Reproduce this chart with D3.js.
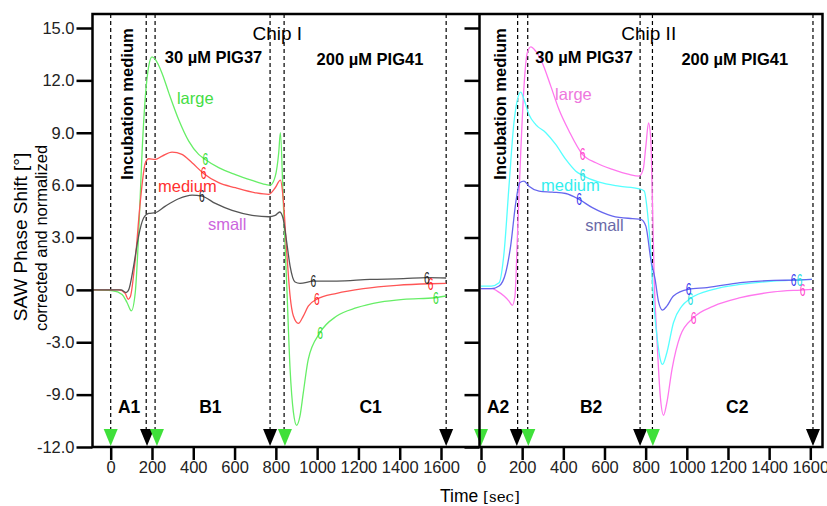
<!DOCTYPE html>
<html>
<head>
<meta charset="utf-8">
<script src="https://cdn.jsdelivr.net/npm/d3@7"></script>
<style>
  body { margin: 0; background: #fff; }
  svg { display: block; font-family: "Liberation Sans", Arial, sans-serif; }
</style>
</head>
<body>
<div id="chart"></div>
<script>
// ---- data: [time (s), phase shift (deg)] ----
const chip1Large = [[-90,0],[10,-0.05],[55,-0.26],[79,-0.72],[100,-1.2],[119,-0.15],[135,3.1],[152,7.9],[168,11.1],[184,12.8],[200,13.35],[216,13.2],[249,12.4],[281,11.3],[329,9.76],[378,8.52],[426,7.76],[458,7.47],[523,7.0],[604,6.6],[685,6.27],[749,6.04],[773,6.0],[797,6.5],[814,7.87],[822,9.0],[836,5.0],[853,0.2],[869,-4.55],[885,-7.0],[901,-7.76],[917,-7.22],[933,-5.89],[957,-3.98],[1014,-2.45],[1095,-1.5],[1192,-1.02],[1305,-0.7],[1418,-0.54],[1571,-0.45],[1625,-0.35]];
const chip1Medium = [[-90,0],[40,0],[70,-0.2],[85,-0.54],[95,-0.4],[119,1.75],[143,5.0],[168,7.28],[184,7.51],[216,7.47],[249,7.66],[297,7.89],[345,7.76],[394,7.28],[450,6.67],[523,6.14],[604,5.85],[701,5.56],[765,5.47],[797,5.85],[822,6.29],[836,5.18],[853,2.13],[869,-0.35],[885,-1.5],[909,-1.92],[933,-1.5],[957,-0.93],[998,-0.54],[1095,-0.2],[1224,0.07],[1386,0.26],[1547,0.35],[1625,0.37]];
const chip1Small = [[-90,0],[50,0],[75,-0.15],[87,0],[111,1.36],[135,3.08],[160,4.13],[184,4.38],[216,4.42],[265,4.8],[329,5.22],[394,5.43],[442,5.37],[507,4.95],[588,4.55],[685,4.27],[765,4.19],[797,4.27],[819,4.46],[836,4.04],[853,2.7],[869,1.36],[893,0.45],[917,0.37],[982,0.5],[1095,0.5],[1256,0.6],[1418,0.64],[1531,0.7],[1625,0.68]];

const chip2Large = [[0,0.07],[55,0.07],[79,-0.07],[112,-0.35],[136,-0.64],[152,-0.89],[165,-0.35],[177,3.08],[193,7.85],[209,11.67],[225,13.58],[242,13.92],[266,13.67],[298,13.0],[339,11.67],[379,10.33],[428,9.09],[493,7.76],[558,7.28],[639,6.9],[720,6.61],[768,6.52],[788,6.9],[801,8.23],[814,9.57],[825,8.6],[833,5.0],[842,0.5],[855,-2.83],[871,-6.08],[887,-7.18],[903,-6.46],[928,-4.55],[968,-2.64],[1033,-1.59],[1130,-0.93],[1260,-0.45],[1422,-0.12],[1552,-0.01],[1608,0.03]];
const chip2Medium = [[0,0.22],[50,0.22],[88,0.41],[112,2.13],[136,5.94],[160,9.57],[177,10.9],[193,11.33],[209,10.9],[233,10.05],[266,9.47],[315,9.0],[363,8.33],[412,7.47],[461,6.8],[493,6.56],[574,6.17],[671,5.94],[768,5.79],[793,5.66],[809,4.42],[825,2.13],[838,-0.54],[855,-2.64],[871,-3.98],[882,-4.27],[903,-3.6],[935,-1.88],[976,-0.93],[1017,-0.5],[1130,0.03],[1260,0.31],[1422,0.5],[1536,0.56],[1608,0.6]];
const chip2Small = [[0,0.07],[50,0.07],[88,0.22],[120,0.98],[144,2.51],[169,5.0],[188,6.14],[209,6.23],[233,5.94],[282,5.66],[347,5.6],[412,5.52],[477,5.18],[541,4.71],[639,4.23],[736,4.08],[777,4.04],[801,3.65],[825,1.75],[846,0.6],[862,-0.64],[882,-1.16],[903,-0.93],[935,-0.35],[1008,0.03],[1098,0.13],[1260,0.41],[1422,0.54],[1519,0.56],[1608,0.6]];

// times of the "6" markers on each curve
const chip1Marks = { large: [458, 1014, 1575], medium: [450, 998, 1550], small: [442, 982, 1531] };
const chip2Marks = { large: [493, 1033, 1563], medium: [493, 1017, 1548], small: [477, 1008, 1519] };

// injection events (dashed lines + triangles)
const chip1Lines = [0, 172, 215, 772, 840, 1625];
const chip1Events = [[0,"in"],[176,"out"],[224,"in"],[772,"out"],[844,"in"],[1625,"out"]];
const chip2Lines = [178, 227, 773, 833, 1613];
const chip2Events = [[0,"in"],[174,"out"],[230,"in"],[773,"out"],[835,"in"],[1613,"out"]];

const yTicks = [15, 12, 9, 6, 3, 0, -3, -6, -9];
const yTickLabels = ["15.0", "12.0", "9.0", "6.0", "3.0", "0", "-3.0", "-9.0", "-12.0"];
const xTicks = [0, 200, 400, 600, 800, 1000, 1200, 1400, 1600];

const width = 827, height = 506;
const frameTop = 14, axisY = 447, frameL = 92.5, divider = 479.5, frameR = 822.5;

const y = d3.scaleLinear().domain([-9, 15]).range([447, 28]);
const x1 = d3.scaleLinear().domain([0, 1600]).range([110.7, 441]);
const x2 = d3.scaleLinear().domain([0, 1600]).range([481, 810.3]);

const svg = d3.select("#chart").append("svg")
    .attr("width", width)
    .attr("height", height);

const panels = [
  {
    x: x1, title: "Chip I", lines: chip1Lines, events: chip1Events, marks: chip1Marks,
    series: [
      { key: "large", data: chip1Large, color: "#66ee66", mark: "#33dd33" },
      { key: "medium", data: chip1Medium, color: "#ff5555", mark: "#ff2222" },
      { key: "small", data: chip1Small, color: "#555555", mark: "#222222" }
    ],
    labels: [
      { text: "large", t: 321, v: 10.62, color: "#44dd44" },
      { text: "medium", t: 229, v: 5.58, color: "#ff3030" },
      { text: "small", t: 471, v: 3.41, color: "#cc66dd" }
    ],
    phases: [["A1", 89], ["B1", 483], ["C1", 1259]],
    heads: [["30 µM PIG37", 498, 63], ["200 µM PIG41", 1256, 65]],
    incubT: 108, titleT: 807
  },
  {
    x: x2, title: "Chip II", lines: chip2Lines, events: chip2Events, marks: chip2Marks,
    series: [
      { key: "large", data: chip2Large, color: "#ff77ee", mark: "#ff44cc" },
      { key: "medium", data: chip2Medium, color: "#55ffff", mark: "#22dddd" },
      { key: "small", data: chip2Small, color: "#6666ee", mark: "#3333ee" }
    ],
    labels: [
      { text: "large", t: 360, v: 10.85, color: "#ee77dd" },
      { text: "medium", t: 292, v: 5.64, color: "#33eeee" },
      { text: "small", t: 506, v: 3.35, color: "#6a6aa8" }
    ],
    phases: [["A2", 83], ["B2", 535], ["C2", 1245]],
    heads: [["30 µM PIG37", 501, 63], ["200 µM PIG41", 1233, 65]],
    incubT: 122, titleT: 815
  }
];

function valueAt(data, t) {
  for (let i = 1; i < data.length; i++) {
    if (data[i][0] >= t) {
      const a = data[i - 1], b = data[i];
      return a[1] + (b[1] - a[1]) * (t - a[0]) / (b[0] - a[0]);
    }
  }
  return data[data.length - 1][1];
}

panels.forEach(p => {
  const x = p.x;

  // dashed event lines
  svg.append("g").selectAll("line")
    .data(p.lines)
    .enter().append("line")
    .attr("x1", d => x(d)).attr("x2", d => x(d))
    .attr("y1", frameTop).attr("y2", 430)
    .attr("stroke", "#000")
    .attr("stroke-width", 1.2)
    .attr("stroke-dasharray", "4,3");

  // curves
  const line = d3.line()
    .x(d => x(d[0]))
    .y(d => y(d[1]))
    .curve(d3.curveMonotoneX);

  svg.append("g").selectAll("path")
    .data(p.series)
    .enter().append("path")
    .attr("d", d => line(d.data))
    .attr("fill", "none")
    .attr("stroke", d => d.color)
    .attr("stroke-width", 1.3);

  // "6" markers
  p.series.forEach(s => {
    svg.append("g").selectAll("text")
      .data(p.marks[s.key])
      .enter().append("text")
      .attr("transform", t => `translate(${x(t)},${y(valueAt(s.data, t)) + 6}) scale(0.6,1)`)
      .attr("text-anchor", "middle")
      .attr("font-size", "17px")
      .attr("fill", s.mark)
      .text("6");
  });

  // series labels
  svg.append("g").selectAll("text")
    .data(p.labels)
    .enter().append("text")
    .attr("x", d => x(d.t))
    .attr("y", d => y(d.v))
    .attr("font-size", "16.5px")
    .attr("fill", d => d.color)
    .text(d => d.text);

  // triangles
  svg.append("g").selectAll("path")
    .data(p.events)
    .enter().append("path")
    .attr("d", d => `M${x(d[0]) - 7},429 L${x(d[0]) + 7},429 L${x(d[0])},446 Z`)
    .attr("fill", d => d[1] === "in" ? "#3fe03a" : "#000");

  // phase labels
  svg.append("g").selectAll("text")
    .data(p.phases)
    .enter().append("text")
    .attr("x", d => x(d[1]))
    .attr("y", 413)
    .attr("text-anchor", "middle")
    .attr("font-size", "17.5px")
    .attr("font-weight", "bold")
    .text(d => d[0]);

  // concentration headers
  svg.append("g").selectAll("text")
    .data(p.heads)
    .enter().append("text")
    .attr("x", d => x(d[1]))
    .attr("y", d => d[2])
    .attr("text-anchor", "middle")
    .attr("font-size", "16.5px")
    .attr("font-weight", "bold")
    .text(d => d[0]);

  svg.append("text")
    .attr("transform", `translate(${x(p.incubT)},104) rotate(-90)`)
    .attr("text-anchor", "middle")
    .attr("font-size", "16.5px")
    .attr("font-weight", "bold")
    .text("Incubation medium");

  svg.append("text")
    .attr("x", x(p.titleT))
    .attr("y", 40)
    .attr("text-anchor", "middle")
    .attr("font-size", "19px")
    .text(p.title);

  // x axis
  const gx = svg.append("g")
    .attr("transform", `translate(0,${axisY})`)
    .call(d3.axisBottom(x).tickValues(xTicks).tickFormat(d3.format("d")).tickSize(13).tickPadding(1));
  gx.select(".domain").remove();
  gx.selectAll("line").attr("stroke", "#000").attr("stroke-width", 2.5);
  gx.selectAll("text").attr("font-size", "16.5px").attr("fill", "#222")
    .attr("font-family", "Liberation Sans, Arial, sans-serif");
});

// y axes
const gy = svg.append("g")
  .attr("transform", `translate(${frameL},0)`)
  .call(d3.axisLeft(y).tickValues(yTicks).tickFormat((d, i) => yTickLabels[i]).tickSize(16).tickPadding(2));
gy.select(".domain").remove();
gy.selectAll("line").attr("stroke", "#000").attr("stroke-width", 2.5);
gy.selectAll("text").attr("font-size", "16.5px").attr("fill", "#222")
  .attr("font-family", "Liberation Sans, Arial, sans-serif");

const gy2 = svg.append("g")
  .attr("transform", `translate(${divider},0)`)
  .call(d3.axisLeft(y).tickValues(yTicks).tickFormat("").tickSize(15));
gy2.select(".domain").remove();
gy2.selectAll("line").attr("stroke", "#000").attr("stroke-width", 2.5);

// frame
svg.append("path")
  .attr("d", `M${frameL},${axisY} L${frameL},${frameTop} L${frameR},${frameTop} L${frameR},${axisY} Z M${divider},${frameTop} L${divider},${axisY}`)
  .attr("fill", "none")
  .attr("stroke", "#000")
  .attr("stroke-width", 2.5);

// axis titles
svg.append("text")
  .attr("transform", "translate(27,237) rotate(-90)")
  .attr("text-anchor", "middle")
  .attr("font-size", "19px")
  .text("SAW Phase Shift [°]");

svg.append("text")
  .attr("transform", "translate(47,238) rotate(-90)")
  .attr("text-anchor", "middle")
  .attr("font-size", "16.5px")
  .text("corrected and normalized");

const xt = svg.append("text")
  .attr("x", 440)
  .attr("y", 502)
  .attr("font-size", "17.5px");
xt.append("tspan").text("Time ");
xt.append("tspan").attr("font-size", "15px").attr("font-family", "DejaVu Serif, serif").text("[sec]");
</script>
</body>
</html>
